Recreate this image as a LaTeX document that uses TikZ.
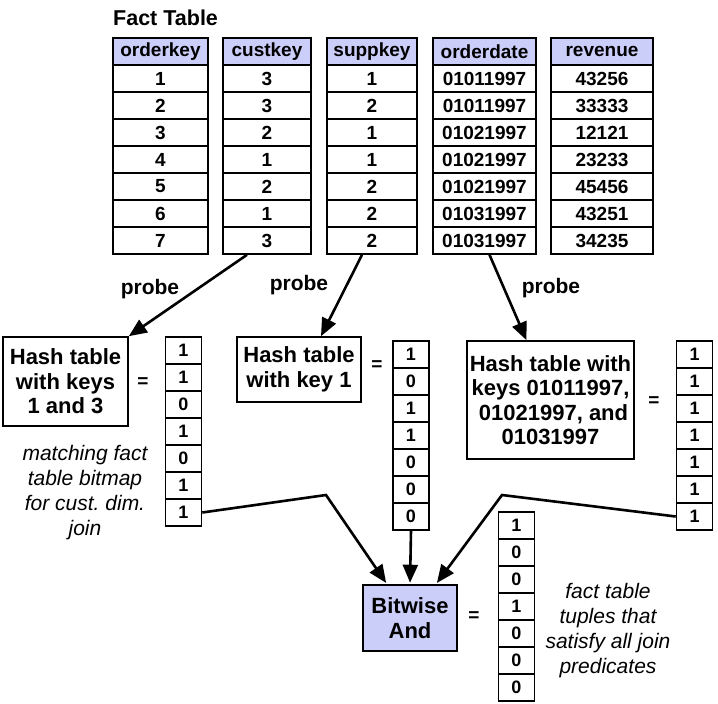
\documentclass[tikz,border=0pt]{standalone}
\usepackage{fontspec}
\setmainfont{Liberation Sans}
\usetikzlibrary{arrows.meta,calc}
\frenchspacing

\definecolor{headblue}{RGB}{204,206,250}

\begin{document}
\begin{tikzpicture}[x=1pt,y=-1pt,
    % styles
    cell/.style={draw,line width=1.6pt,minimum height=27pt,inner sep=0pt,font=\fontsize{19}{20}\selectfont\bfseries},
    head cell/.style={cell,fill=headblue},
    bit/.style={draw,line width=1.6pt,minimum width=36pt,minimum height=27pt,inner sep=0pt,font=\fontsize{18}{18}\selectfont\bfseries},
    hash box/.style={draw,line width=1.6pt,align=center,inner sep=0pt,font=\fontsize{22}{24.5}\selectfont\bfseries},
    probe/.style={-{Triangle[length=18pt,width=15pt]},line width=2.6pt},
    probe text/.style={font=\fontsize{21}{22}\selectfont\bfseries},
    remark/.style={align=center,inner sep=0pt,font=\fontsize{21}{25}\selectfont\itshape},
    equals/.style={font=\fontsize{19}{20}\selectfont\bfseries}]

  \useasboundingbox (0,0) rectangle (718,704);

  % fact table
  \node[anchor=base west,inner sep=0pt,font=\fontsize{21.5}{24}\selectfont\bfseries] (title) at (113,25) {Fact Table};
  \foreach \col/\x/\w/\head/\vals in {
      ok/160.5/95/orderkey/{1,2,3,4,5,6,7},
      ck/267/88/custkey/{3,3,2,1,2,1,3},
      sk/372/90/suppkey/{1,2,1,1,2,2,2},
      od/484.5/103/orderdate/{01011997,01011997,01021997,01021997,01021997,01031997,01031997},
      rv/602/102/revenue/{43256,33333,12121,23233,45456,43251,34235}} {
    \node[head cell,minimum width=\w pt] (\col-0) at (\x,51.5) {\head};
    \foreach \v [count=\i] in \vals
      \node[cell,minimum width=\w pt] (\col-\i) at (\x,51.5+27*\i) {\v};
  }

  % hash tables
  \node[hash box,minimum width=125pt,minimum height=89pt] (htc) at (65.5,381.5) {Hash table\\with keys\\1 and 3};
  \node[hash box,minimum width=124pt,minimum height=65pt] (hts) at (299,369.5) {Hash table\\with key 1};
  \node[hash box,minimum width=167pt,minimum height=118pt] (htd) at (550.5,400) {Hash table with\\keys 01011997,\\\ 01021997, and\\01031997};
  \node[hash box,fill=headblue,minimum width=94pt,minimum height=66pt] (and) at (410,618) {Bitwise\\And};

  % bitmaps
  \foreach \bm/\x/\y/\vals in {
      bmc/183.5/337/{1,1,0,1,0,1,1},
      bms/411/341/{1,0,1,1,0,0,0},
      bmd/694.5/341/{1,1,1,1,1,1,1},
      bmr/516.5/512/{1,0,0,1,0,0,0}}
    \foreach \v [count=\i] in \vals
      \node[bit] (\bm-\i) at (\x,\y-13.5+27*\i) {\v};

  % equal signs
  \node[equals] (eqc) at (143,383) {=};
  \node[equals] (eqs) at (377,366) {=};
  \node[equals] (eqd) at (654,402) {=};
  \node[equals] (eqr) at (474,617) {=};

  % probes
  \draw[probe] ($(ck-7.south)+(-20,0)$) -- (htc.north east);
  \draw[probe] ($(sk-7.south)+(-10,0)$) -- ($(hts.north)+(22,0)$);
  \draw[probe] ($(od-7.south)+(5,0)$) -- ($(htd.north)+(-24,0)$);
  \node[probe text] (pc) at (150,289) {probe};
  \node[probe text] (ps) at (299,285) {probe};
  \node[probe text] (pd) at (551,288) {probe};

  % bitwise and
  \coordinate (kc) at (326,495);
  \coordinate (kd) at (502,495);
  \draw[probe,shorten >=1.5pt] (bmc-7.east) -- (kc) -- ($(and.north)+(-23,0)$);
  \draw[probe,shorten >=1.5pt] (bms-7.south) -- (and.north);
  \draw[probe,shorten >=1.5pt] (bmd-7.west) -- (kd) -- ($(and.north)+(26,0)$);

  % text
  \node[remark] (mc) at (85,493) {matching fact\\table bitmap\\for cust. dim.\\join};
  \node[remark] (ft) at (608,631) {fact table\\tuples that\\satisfy all join\\predicates};
\end{tikzpicture}
\end{document}
